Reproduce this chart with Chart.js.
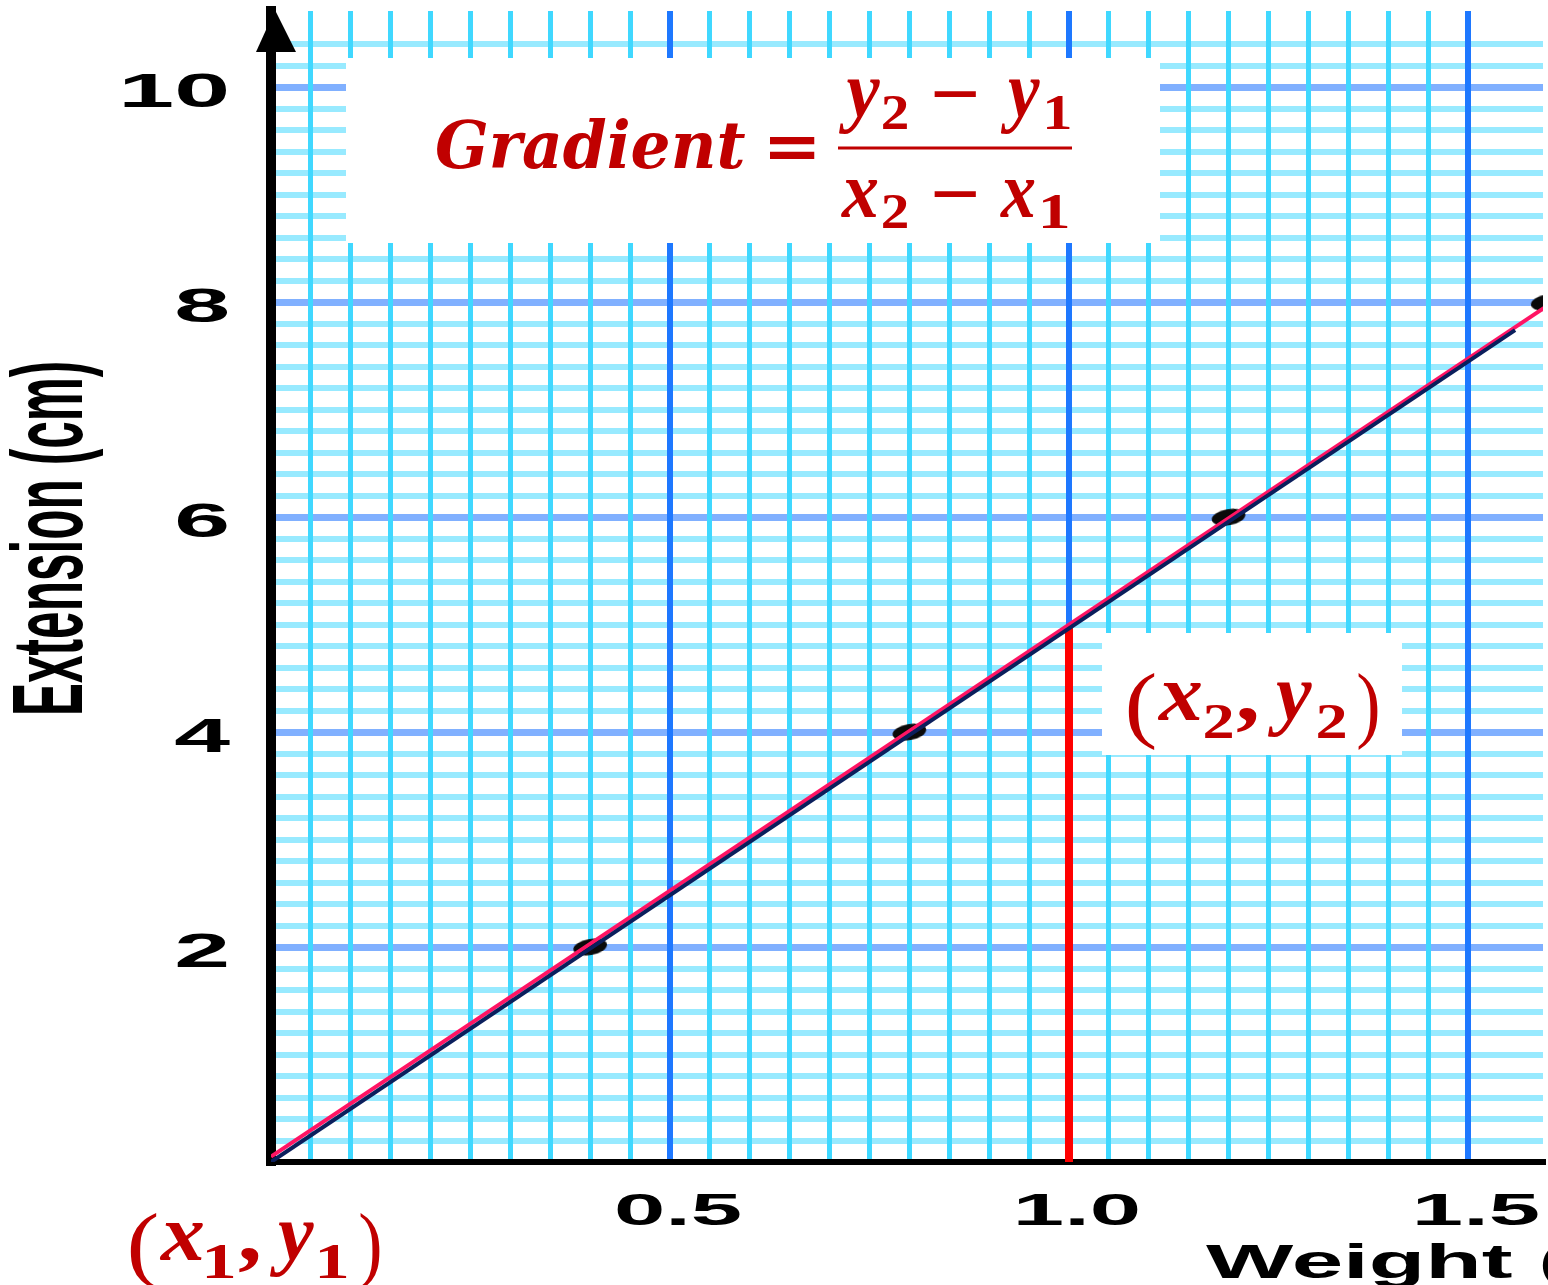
<!DOCTYPE html>
<html>
<head>
<meta charset="utf-8">
<title>Extension against weight</title>
<script src="https://cdn.jsdelivr.net/npm/chart.js@4.4.1/dist/chart.umd.min.js"></script>
<style>
  html, body { margin: 0; padding: 0; background: #fff; }
  canvas { display: block; }
</style>
</head>
<body>
<canvas id="graph" width="1548" height="1285"></canvas>
<script>
// readings taken from the graph paper
const weights = [0.4, 0.8, 1.2, 1.6];
const extensions = [2, 4, 6, 8];

// line of best fit, and the hand-traced pink line beside it
const fitX = [0, 1.559];
const fitY = [0, 7.74];
const traceX = [0, 1.6];
const traceY = [0.05, 7.97];

// red marker dropped from (x2, y2) to the weight axis
const markX = [1.0, 1.0];
const markY = [0, 4.97];

const xTicks = [0.5, 1.0, 1.5];
const xTickLabels = ['0.5', '1.0', '1.5'];
const yTicks = [2, 4, 6, 8, 10];
const yTickLabels = ['2', '4', '6', '8', '10'];

const toPoints = (xs, ys) => xs.map((x, i) => ({ x: x, y: ys[i] }));
const onStep = (v, s) => Math.abs(v / s - Math.round(v / s)) < 1e-6;
const clear = 'rgba(0,0,0,0)';
const red = '#c00000';

// small black blob used for the plotted points
const dot = document.createElement('canvas');
dot.width = 40; dot.height = 22;
const dctx = dot.getContext('2d');
dctx.fillStyle = '#0a0a0a';
dctx.beginPath();
dctx.ellipse(20, 11, 17, 8, 0, 0, Math.PI * 2);
dctx.fill();

// draw text so its ink fills x0..x1 (stretched sideways)
function fitText(ctx, text, font, x0, x1, base) {
  ctx.font = font;
  const m = ctx.measureText(text);
  const s = (x1 - x0) / (m.actualBoundingBoxLeft + m.actualBoundingBoxRight);
  ctx.save();
  ctx.translate(x0 + m.actualBoundingBoxLeft * s, base);
  ctx.scale(s, 1);
  ctx.textAlign = 'left';
  ctx.textBaseline = 'alphabetic';
  ctx.fillText(text, 0, 0);
  ctx.restore();
}

const mathFont = 'italic bold 80px "Liberation Serif"';
const subFont = 'bold 50px "Liberation Serif"';
const parenFont = '84px "Liberation Serif"';
const minusFont = '72px "DejaVu Serif"';

function pointLabel(ctx, sub, ox, oy) {
  fitText(ctx, '(', parenFont, ox, ox + 27, oy + 12);
  fitText(ctx, 'x', mathFont, ox + 30, ox + 74, oy);
  fitText(ctx, sub, subFont, ox + 77, ox + 104, oy + 18);
  fitText(ctx, ',', mathFont, ox + 109, ox + 129, oy);
  fitText(ctx, 'y', mathFont, ox + 139, ox + 184, oy);
  fitText(ctx, sub, subFont, ox + 190, ox + 217, oy + 18);
  fitText(ctx, ')', parenFont, ox + 230, ox + 250, oy + 12);
}

const paper = {
  id: 'paper',
  beforeDatasetsDraw(chart) {
    const ctx = chart.ctx;
    ctx.save();
    ctx.fillStyle = '#fff';
    ctx.fillRect(346, 58, 814, 185);
    ctx.fillRect(1102, 633, 300, 122);
    ctx.restore();
  },
  afterDraw(chart) {
    const ctx = chart.ctx;
    const xs = chart.scales.x, ys = chart.scales.y;
    const area = chart.chartArea;
    ctx.save();

    // arrow head on the extension axis
    ctx.fillStyle = '#000';
    ctx.beginPath();
    ctx.moveTo(area.left + 4, area.top - 1);
    ctx.lineTo(area.left - 15, area.top + 41);
    ctx.lineTo(area.left + 25, area.top + 41);
    ctx.closePath();
    ctx.fill();

    // tick labels, wide bold
    ctx.fillStyle = '#000';
    ctx.textBaseline = 'alphabetic';
    yTicks.forEach((v, i) => {
      const py = ys.getPixelForValue(v);
      ctx.save();
      ctx.font = 'bold 49px "Liberation Sans"';
      ctx.translate(230, py + 20);
      ctx.scale(2.05, 1);
      ctx.textAlign = 'right';
      ctx.fillText(yTickLabels[i], 0, 0);
      ctx.restore();
    });
    xTicks.forEach((v, i) => {
      const px = xs.getPixelForValue(v);
      ctx.save();
      ctx.font = 'bold 45px "Liberation Sans"';
      ctx.translate(px + 8, 1225);
      ctx.scale(2.05, 1);
      ctx.textAlign = 'center';
      ctx.fillText(xTickLabels[i], 0, 0);
      ctx.restore();
    });

    // axis titles
    ctx.font = 'bold 49px "Liberation Sans"';
    const mw = ctx.measureText('Weight');
    const sw = (1512 - 1206) / (mw.actualBoundingBoxLeft + mw.actualBoundingBoxRight);
    ctx.save();
    ctx.translate(1206 + mw.actualBoundingBoxLeft * sw, 1278);
    ctx.scale(sw, 1);
    ctx.textAlign = 'left';
    ctx.fillText('Weight (N)', 0, 0);
    ctx.restore();

    const title = 'Extension (cm)';
    const mt = ctx.measureText(title);
    const capH = ctx.measureText('E').actualBoundingBoxAscent;
    const sy = 350 / (mt.actualBoundingBoxLeft + mt.actualBoundingBoxRight);
    const sx = 67 / capH;
    ctx.save();
    ctx.translate(82, 713);
    ctx.scale(sx, sy);
    ctx.rotate(-Math.PI / 2);
    ctx.textAlign = 'left';
    ctx.fillText(title, mt.actualBoundingBoxLeft, 0);
    ctx.restore();

    // gradient formula
    ctx.fillStyle = red;
    fitText(ctx, 'Gradient', 'italic bold 66px "DejaVu Serif"', 435, 745, 168);
    fitText(ctx, '=', 'bold 66px "DejaVu Serif"', 770, 815, 169);
    fitText(ctx, 'y', mathFont, 838, 880, 117);
    fitText(ctx, '2', subFont, 883, 907, 129);
    fitText(ctx, '\u2212', minusFont, 934, 976, 117);
    fitText(ctx, 'y', mathFont, 1000, 1040, 117);
    fitText(ctx, '1', subFont, 1047, 1070, 129);
    ctx.fillRect(838, 146.5, 234, 3);
    fitText(ctx, 'x', mathFont, 841, 878, 217);
    fitText(ctx, '2', subFont, 883, 907, 228);
    fitText(ctx, '\u2212', minusFont, 934, 976, 217);
    fitText(ctx, 'x', mathFont, 1000, 1035, 217);
    fitText(ctx, '1', subFont, 1043, 1068, 228);

    // the two chosen points
    pointLabel(ctx, '2', 1128, 720);
    pointLabel(ctx, '1', 130, 1260);

    ctx.restore();
  }
};

new Chart(document.getElementById('graph'), {
  type: 'scatter',
  data: {
    datasets: [
      {
        label: 'Best fit',
        data: toPoints(fitX, fitY),
        showLine: true,
        borderColor: '#0b1f5c',
        borderWidth: 4,
        pointRadius: 0,
        order: 0
      },
      {
        label: 'Trace',
        data: toPoints(traceX, traceY),
        showLine: true,
        borderColor: '#ff1464',
        borderWidth: 4,
        pointRadius: 0,
        order: 1
      },
      {
        label: 'Readings',
        data: toPoints(weights, extensions),
        pointStyle: dot,
        pointRotation: -10,
        order: 2
      },
      {
        label: 'x2',
        data: toPoints(markX, markY),
        showLine: true,
        borderColor: '#ff0000',
        borderWidth: 8,
        pointRadius: 0,
        order: 3
      }
    ]
  },
  options: {
    responsive: false,
    animation: false,
    events: [],
    layout: { padding: { left: 271, top: 11, right: 0, bottom: 123 } },
    plugins: {
      legend: { display: false },
      tooltip: { enabled: false }
    },
    scales: {
      y: {
        type: 'linear',
        position: 'left',
        min: 0,
        max: 10.71,
        ticks: { display: false, stepSize: 0.2 },
        grid: {
          drawTicks: false,
          color: c => {
            const v = c.tick.value;
            if (v < 1e-9 || !onStep(v, 0.2)) return clear;
            return onStep(v, 2) ? '#80b0ff' : '#98eaff';
          },
          lineWidth: c => onStep(c.tick.value, 2) ? 7 : 6
        },
        border: { color: '#000', width: 10 }
      },
      x: {
        type: 'linear',
        position: 'bottom',
        min: 0,
        max: 1.594,
        ticks: { display: false, stepSize: 0.05 },
        grid: {
          drawTicks: false,
          color: c => {
            const v = c.tick.value;
            if (v < 1e-9 || !onStep(v, 0.05)) return clear;
            return onStep(v, 0.5) ? '#1e78ff' : '#40d8ff';
          },
          lineWidth: c => onStep(c.tick.value, 0.5) ? 6 : 5
        },
        border: { color: '#000', width: 6 }
      }
    }
  },
  plugins: [paper]
});
</script>
</body>
</html>
